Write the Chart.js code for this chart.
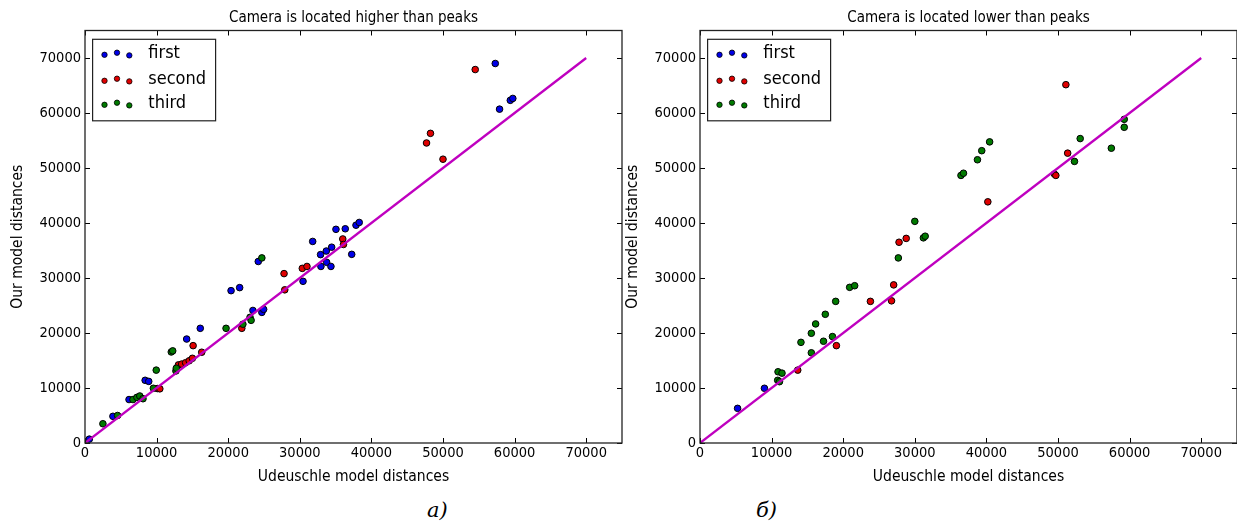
<!DOCTYPE html>
<html>
<head>
<meta charset="utf-8">
<script src="https://cdn.jsdelivr.net/npm/chart.js@4.4.0/dist/chart.umd.min.js"></script>
<style>
html, body { margin: 0; padding: 0; background: #fff; width: 1237px; height: 522px; overflow: hidden; }
body { position: relative; }
.box { position: absolute; top: 0; width: 707px; height: 490px; }
#wrapA { left: 0; }
#wrapB { left: 615px; }
.cap { position: absolute; top: 500px; font-family: "DejaVu Serif", serif; font-style: italic; font-size: 21px; line-height: 21px; color: #000; }
#capA { left: 427px; }
#capB { left: 756px; }
</style>
</head>
<body>
<div class="box" id="wrapA"><canvas id="chartA" width="707" height="490"></canvas></div>
<div class="box" id="wrapB"><canvas id="chartB" width="707" height="490"></canvas></div>
<div class="cap" id="capA">а)</div>
<div class="cap" id="capB">б)</div>
<script>
// ticks used on both axes of both plots
const tickVals = [0, 10000, 20000, 30000, 40000, 50000, 60000, 70000];
const seriesNames = ['first', 'second', 'third'];

// left plot: camera higher than peaks
const higherFirstX = [600, 3900, 6150, 8400, 8900, 14200, 16100, 20400, 21600, 23450, 24700, 24950, 24200, 30450, 31800, 32900, 32950, 33700, 33750, 34450, 34350, 35050, 36350, 37250, 37850, 38300, 57300, 57900, 59400, 59750];
const higherFirstY = [700, 4850, 7900, 11400, 11200, 18900, 20850, 27700, 28250, 24100, 23750, 24300, 33000, 29400, 36650, 34250, 32100, 34900, 32850, 35600, 32100, 38850, 38950, 34300, 39600, 40100, 69000, 60700, 62300, 62650];
const higherSecondX = [10100, 10450, 13050, 13500, 14050, 14550, 15000, 15100, 16300, 21900, 27800, 27900, 30350, 31000, 36000, 36100, 47700, 48250, 50000, 54500];
const higherSecondY = [9900, 9850, 14200, 14350, 14600, 14950, 15400, 17700, 16500, 20850, 30800, 27850, 31750, 32100, 37100, 36100, 54550, 56300, 51600, 67900];
const higherThirdX = [2500, 4550, 6700, 7250, 7650, 8100, 9550, 9950, 12050, 12250, 12700, 12750, 19700, 22050, 23050, 23200, 24700];
const higherThirdY = [3500, 5000, 7900, 8300, 8550, 8050, 9950, 13250, 16550, 16750, 13100, 13600, 20850, 21600, 22850, 22300, 33650];

// right plot: camera lower than peaks
const lowerFirstX = [5250, 9000];
const lowerFirstY = [6300, 9950];
const lowerSecondX = [13650, 19050, 23800, 26750, 27050, 27800, 28800, 40200, 49500, 49700, 51350, 51100];
const lowerSecondY = [13250, 17700, 25750, 25850, 28750, 36500, 37200, 43850, 48900, 48650, 52700, 65150];
const lowerThirdX = [10900, 11450, 10850, 11100, 14100, 15550, 15550, 16150, 17250, 17500, 18500, 18950, 20900, 21600, 27700, 30000, 31200, 31450, 36450, 36800, 38750, 39350, 40450, 52300, 53100, 57450, 59250, 59250];
const lowerThirdY = [12950, 12700, 11400, 11150, 18300, 19950, 16400, 21650, 18500, 23400, 19350, 25750, 28300, 28600, 33650, 40300, 37300, 37600, 48650, 49050, 51500, 53150, 54750, 51200, 55350, 53600, 58850, 57400];

// the y = x reference line
const lineX = [0, 70000];
const lineY = [0, 70000];

const colors = ['#0000e8', '#e00000', '#007a00'];
const lineColor = '#bf00bf';
const fontName = '"DejaVu Sans Condensed", "DejaVu Sans"';

Chart.defaults.font.family = fontName;
Chart.defaults.color = '#000';

function zip(xs, ys) {
    return xs.map((x, i) => ({ x: x, y: ys[i] }));
}

function scatterSet(i, xs, ys) {
    return {
        type: 'scatter',
        label: seriesNames[i],
        data: zip(xs, ys),
        backgroundColor: colors[i],
        borderColor: '#000',
        borderWidth: 1,
        pointRadius: 3.3,
        pointHoverRadius: 3.3,
        order: 3 - i
    };
}

// matplotlib style frame, inward ticks and 3-marker legend
const framePlugin = {
    id: 'frame',
    afterDraw(chart) {
        const ctx = chart.ctx;
        const a = chart.chartArea;
        const x = chart.scales.x, y = chart.scales.y;
        ctx.save();
        ctx.strokeStyle = '#000';
        ctx.lineWidth = 1;
        tickVals.forEach(v => {
            const px = Math.round(x.getPixelForValue(v)) + 0.5;
            const py = Math.round(y.getPixelForValue(v)) + 0.5;
            ctx.beginPath();
            ctx.moveTo(px, a.bottom); ctx.lineTo(px, a.bottom - 5);
            ctx.moveTo(px, a.top); ctx.lineTo(px, a.top + 5);
            ctx.moveTo(a.left, py); ctx.lineTo(a.left + 5, py);
            ctx.moveTo(a.right, py); ctx.lineTo(a.right - 5, py);
            ctx.stroke();
        });
        ctx.lineWidth = 1.3;
        ctx.strokeStyle = '#222';
        ctx.strokeRect(a.left, a.top, a.right - a.left, a.bottom - a.top);

        // legend
        const bx = a.left + 7.6, by = a.top + 8.8;
        ctx.fillStyle = '#fff';
        ctx.fillRect(bx, by, 123, 81.5);
        ctx.lineWidth = 1.2;
        ctx.strokeStyle = '#222';
        ctx.strokeRect(bx, by, 123, 81.5);
        const rowY = [22.5, 48.5, 72.5];
        const mx = [19.5, 32, 44.3];
        const my = [1.8, -0.3, 2.4];
        chart.data.datasets.slice(0, 3).forEach((ds, i) => {
            const cy = a.top + rowY[i];
            mx.forEach((ox, k) => {
                ctx.beginPath();
                ctx.arc(a.left + ox, cy + my[k], 2.7, 0, Math.PI * 2);
                ctx.fillStyle = ds.backgroundColor;
                ctx.fill();
                ctx.lineWidth = 0.8;
                ctx.strokeStyle = '#000';
                ctx.stroke();
            });
            ctx.fillStyle = '#000';
            ctx.font = '18px ' + fontName;
            ctx.textBaseline = 'middle';
            ctx.textAlign = 'left';
            ctx.fillText(ds.label, a.left + 63.3, cy);
        });
        ctx.restore();
    }
};

function makeChart(id, title, sets) {
    const axisFont = { family: fontName, size: 14.5 };
    const labelFont = { family: fontName, size: 15.5 };
    new Chart(document.getElementById(id).getContext('2d'), {
        type: 'scatter',
        data: {
            datasets: [
                scatterSet(0, sets[0], sets[1]),
                scatterSet(1, sets[2], sets[3]),
                scatterSet(2, sets[4], sets[5]),
                {
                    type: 'line',
                    label: 'y = x',
                    data: zip(lineX, lineY),
                    borderColor: lineColor,
                    borderWidth: 2.3,
                    pointRadius: 0,
                    fill: false,
                    tension: 0,
                    order: 0
                }
            ]
        },
        options: {
            responsive: false,
            animation: false,
            layout: { padding: 0 },
            plugins: {
                legend: { display: false },
                tooltip: { enabled: false },
                title: {
                    display: true,
                    text: title,
                    color: '#000',
                    font: { family: fontName, size: 15, weight: 'normal', lineHeight: 1.2 },
                    padding: { top: 9, bottom: 3.5 }
                }
            },
            scales: {
                x: {
                    type: 'linear',
                    min: 0,
                    max: 75000,
                    afterBuildTicks: s => { s.ticks = tickVals.map(v => ({ value: v })); },
                    afterFit: s => { s.height = 47; },
                    grid: { display: false, drawTicks: false },
                    border: { display: false },
                    ticks: { font: axisFont, color: '#000', padding: 2, maxRotation: 0, autoSkip: false, callback: v => String(v) },
                    title: { display: true, text: 'Udeuschle model distances', color: '#000', font: labelFont, padding: { top: 0, bottom: 4 } }
                },
                y: {
                    type: 'linear',
                    min: 0,
                    max: 75000,
                    afterBuildTicks: s => { s.ticks = tickVals.map(v => ({ value: v })); },
                    afterFit: s => { s.width = 85; },
                    grid: { display: false, drawTicks: false },
                    border: { display: false },
                    ticks: { font: axisFont, color: '#000', padding: 4, autoSkip: false, callback: v => String(v) },
                    title: { display: true, text: 'Our model distances', color: '#000', font: labelFont, padding: { top: 9, bottom: 0 } }
                },
                // empty right box so the title centres over the plot
                yr: {
                    type: 'linear',
                    position: 'right',
                    display: true,
                    afterFit: s => { s.width = 85; },
                    grid: { display: false, drawTicks: false },
                    border: { display: false },
                    ticks: { display: false }
                }
            }
        },
        plugins: [framePlugin]
    });
}

makeChart('chartA', 'Camera is located higher than peaks',
    [higherFirstX, higherFirstY, higherSecondX, higherSecondY, higherThirdX, higherThirdY]);
makeChart('chartB', 'Camera is located lower than peaks',
    [lowerFirstX, lowerFirstY, lowerSecondX, lowerSecondY, lowerThirdX, lowerThirdY]);
</script>
</body>
</html>
